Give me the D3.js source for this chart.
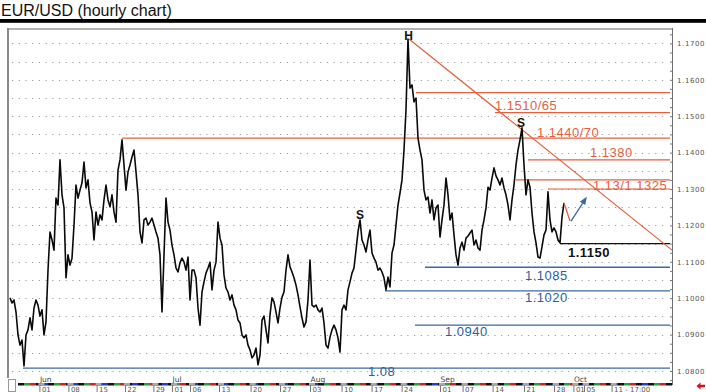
<!DOCTYPE html>
<html><head><meta charset="utf-8">
<script src="https://cdn.jsdelivr.net/npm/d3@7"></script>
<style>html,body{margin:0;padding:0;background:#fff;} svg{display:block;font-family:"Liberation Sans",Arial,Helvetica,sans-serif;}</style>
</head><body><svg id="c" width="706" height="392"></svg>
<script>
// ---------- DATA ----------
const chartTitle = "EUR/USD (hourly chart)";
// EUR/USD, one value every 8 trading hours (bar index = position in array)
const prices = [
1.1001,1.0987,1.0995,1.0962,1.0899,1.0871,1.0885,1.0814,1.0899,1.0913,
1.0946,1.0913,1.0973,1.0995,1.0981,1.0951,1.0968,1.0899,1.0935,1.1077,
1.1182,1.1160,1.1132,1.1275,1.1256,1.1380,1.1284,1.1248,1.1056,1.1119,
1.1091,1.1110,1.1201,1.1311,1.1275,1.1297,1.1317,1.1374,1.1303,1.1325,
1.1262,1.1237,1.1160,1.1237,1.1201,1.1229,1.1215,1.1270,1.1311,1.1270,
1.1251,1.1284,1.1237,1.1209,1.1352,1.1380,1.1435,1.1366,1.1297,1.1347,
1.1366,1.1388,1.1407,1.1347,1.1284,1.1182,1.1152,1.1215,1.1220,1.1201,
1.1209,1.1220,1.1201,1.1182,1.1165,1.1119,1.0962,1.1119,1.1275,1.1209,
1.1187,1.1146,1.1119,1.1083,1.1072,1.1097,1.1110,1.1099,1.1077,1.1113,
1.0995,1.1077,1.1077,1.1056,1.0973,1.0926,1.1017,1.1045,1.1069,1.1083,
1.1099,1.1023,1.1077,1.1099,1.1209,1.1165,1.1146,1.1064,1.1028,1.1017,
1.0995,1.1009,1.0981,1.0968,1.0940,1.0932,1.0899,1.0891,1.0899,1.0871,
1.0858,1.0836,1.0844,1.0863,1.0817,1.0844,1.0940,1.0951,1.0913,1.0877,
1.0954,1.1001,1.0990,1.0962,1.0932,1.0973,1.1003,1.1017,1.1077,1.1119,
1.1086,1.1072,1.1056,1.1036,1.1009,1.0976,1.0946,1.0921,1.0935,1.0995,
1.1105,1.0981,1.0976,1.0981,1.0968,1.0962,1.0973,1.0932,1.0871,1.0863,
1.0893,1.0913,1.0926,1.0913,1.0891,1.0852,1.0968,1.0981,1.0968,1.1023,
1.1045,1.1069,1.1083,1.1132,1.1182,1.1215,1.1160,1.1146,1.1127,1.1160,
1.1187,1.1124,1.1110,1.1099,1.1077,1.1083,1.1072,1.1056,1.1023,1.1058,
1.1031,1.1124,1.1146,1.1201,1.1256,1.1289,1.1325,1.1407,1.1517,1.1712,
1.1577,1.1586,1.1539,1.1550,1.1440,1.1407,1.1380,1.1297,1.1270,1.1278,
1.1234,1.1270,1.1215,1.1248,1.1256,1.1168,1.1215,1.1256,1.1330,1.1284,
1.1215,1.1234,1.1174,1.1119,1.1091,1.1138,1.1154,1.1132,1.1165,1.1171,
1.1179,1.1187,1.1146,1.1160,1.1138,1.1132,1.1187,1.1215,1.1248,1.1305,
1.1297,1.1330,1.1358,1.1336,1.1325,1.1311,1.1330,1.1303,1.1284,1.1256,
1.1215,1.1270,1.1311,1.1366,1.1407,1.1435,1.1468,1.1366,1.1284,1.1325,
1.1305,1.1234,1.1182,1.1152,1.1113,1.1110,1.1141,1.1174,1.1187,1.1292,
1.1215,1.1182,1.1193,1.1182,1.1160,1.1152,1.1223,1.1262
];
const yTicks = [1.08,1.09,1.10,1.11,1.12,1.13,1.14,1.15,1.16,1.17];
const weekLabels = ["01","08","15","22","29","01","06","13","20","27","03","10","17","24","01","07","14","21","28","01","05","11 - 17:00"];
const weekBars   = [14.7,29.2,43.3,57.5,71.7,81,90,104.5,120.3,135,150,165.8,180.8,195.8,215,226.3,241.3,257,272,281.7,287,300.8];
const monthLabels = ["Jun","Jul","Aug","Sep","Oct"];
const monthBars   = [14.7,81,150,215,281.7];
// key levels: [value, first bar]
const redLevels   = [[1.1565,203],[1.1510,242.5],[1.1440,56],[1.1380,259],[1.1325,253],[1.1300,269]];
const blackLevels = [[1.1150,275]];
const blueLevels  = [[1.1085,207.5],[1.1020,187.5],[1.0926,202.5],[1.0808,6.5]];
// level labels: [text, bar, baseline price, kind]
const levelLabels = [
  ["1.1510/65",242.5,1.1517,"red"],["1.1440/70",263.5,1.1443,"red"],["1.1380",290,1.1388,"red"],
  ["1.13/1.1325",291.5,1.1296,"red"],["1.1150",279,1.1113,"black"],["1.1085",257.5,1.1050,"blue"],
  ["1.1020",257.5,1.0990,"blue"],["1.0940",217.5,1.0896,"blue"],["1.08",179,1.0785,"blue"]
];
const patternLabels = [["H",199.3,1.1709],["S",175,1.1218],["S",255.5,1.1470]];
const trendLine = [[199.5,1.1712],[331,1.1132]];
const projDown = [[277,1.1262],[280,1.1212]];
const projUp   = [[280.5,1.1212],[288,1.1275]];

// ---------- DRAW ----------
const W = 706, H = 392;
const svg = d3.select("#c");
const col = {red:"#e5603f", blue:"#3a6aa3", black:"#111", blueText:"#2d5e98"};
const x = d3.scaleLinear().domain([0,331]).range([10,672]);
const y = d3.scaleLinear().domain([1.08,1.17]).range([371,43.4]);

// title + bar
svg.append("text").attr("x",1).attr("y",15.5).attr("font-size",16).attr("fill","#111").text(chartTitle);
svg.append("rect").attr("x",0).attr("y",19).attr("width",W).attr("height",3.8).attr("fill","#000");

// frame
svg.append("line").attr("x1",8).attr("x2",672).attr("y1",29).attr("y2",29).attr("stroke","#9a9a9a").attr("stroke-width",1.5);
svg.append("line").attr("x1",8).attr("x2",8).attr("y1",28).attr("y2",378).attr("stroke","#8a8a8a").attr("stroke-width",2);

// gridlines (dotted, every 0.005)
const gridVals = d3.range(0,19).map(i=>1.08+i*0.005);
svg.append("g").selectAll("line").data(gridVals).join("line")
  .attr("x1",12).attr("x2",668).attr("y1",d=>Math.round(y(d))+0.5).attr("y2",d=>Math.round(y(d))+0.5)
  .attr("stroke","#9d9d9d").attr("stroke-width",1).attr("stroke-dasharray","1.2 5.5");

// right axis
svg.append("line").attr("x1",672.5).attr("x2",672.5).attr("y1",28).attr("y2",385).attr("stroke","#6e6e6e").attr("stroke-width",1);
const minor = d3.range(0,39).map(i=>1.0775+i*0.0025);
const yMinor = d3.axisLeft(y).tickValues(minor.filter(v=>v<1.1745)).tickSize(2).tickFormat("");
const gm = svg.append("g").attr("transform","translate(672,0)").call(yMinor);
gm.select(".domain").remove();
gm.selectAll("line").attr("stroke","#777");
const yAxis = d3.axisRight(y).tickValues(yTicks).tickSize(0).tickPadding(5).tickFormat(d3.format(".4f"));
const ga = svg.append("g").attr("transform","translate(672,0)").call(yAxis);
ga.select(".domain").remove();
ga.selectAll("text").attr("font-size",7).attr("fill","#555").attr("letter-spacing",0.6)
  .attr("font-family","'DejaVu Sans',Arial,sans-serif");

// levels
function levels(arr,color,w){
  svg.append("g").selectAll("line").data(arr).join("line")
    .attr("x1",d=>x(d[1])).attr("x2",670).attr("y1",d=>y(d[0])).attr("y2",d=>y(d[0]))
    .attr("stroke",color).attr("stroke-width",w);
}
levels(redLevels,col.red,1.2);
levels(blackLevels,"#111",1.1);
levels(blueLevels,col.blue,1.3);

// trend line
const ln = d3.line().x(d=>x(d[0])).y(d=>y(d[1]));
svg.append("path").attr("d",ln(trendLine)).attr("fill","none").attr("stroke",col.red).attr("stroke-width",1.2);

// price line
const priceLine = d3.line().x((d,i)=>x(i)).y(d=>y(d));
svg.append("path").datum(prices).attr("d",priceLine).attr("fill","none")
  .attr("stroke","#0a0a0a").attr("stroke-width",1.6).attr("stroke-linejoin","round");

// projections
svg.append("defs").append("marker").attr("id","ah").attr("viewBox","0 0 10 10").attr("refX",8).attr("refY",5)
  .attr("markerWidth",6).attr("markerHeight",6).attr("orient","auto")
  .append("path").attr("d","M0,1 L10,5 L0,9 Z").attr("fill",col.blue);
svg.append("path").attr("d",ln(projDown)).attr("fill","none").attr("stroke",col.red).attr("stroke-width",1.3);
svg.append("path").attr("d",ln(projUp)).attr("fill","none").attr("stroke",col.blue).attr("stroke-width",1.3).attr("marker-end","url(#ah)");

// level labels
svg.append("g").selectAll("text").data(levelLabels).join("text")
  .attr("x",d=>x(d[1])).attr("y",d=>y(d[2])).attr("font-size",13).attr("letter-spacing",0.5)
  .attr("font-weight",d=>d[3]==="black"?"bold":"normal")
  .attr("fill",d=>d[3]==="red"?col.red:(d[3]==="blue"?col.blueText:"#111"))
  .text(d=>d[0]);

// pattern labels
svg.append("g").selectAll("text").data(patternLabels).join("text")
  .attr("x",d=>x(d[1])).attr("y",d=>y(d[2])).attr("text-anchor","middle")
  .attr("font-size",12).attr("font-weight","bold").attr("fill","#111").text(d=>d[0]);

// bottom time band
const dayColors = ["#111","#22a33a","#d42020","#111","#1f3fcf"];
const band = svg.append("g");
const dayW = x(3)-x(0);
d3.range(0,110).forEach(i=>{
  const x0 = x(4)+i*dayW;
  if (x0>=672) return;
  band.append("rect").attr("x",x0).attr("y",383).attr("width",Math.min(dayW,672-x0)).attr("height",2.5)
    .attr("fill",dayColors[i%5]);
});
// week ticks
const wk = svg.append("g");
weekLabels.forEach((t,i)=>{
  const xx = x(weekBars[i]);
  wk.append("rect").attr("x",xx-1).attr("y",383).attr("width",6).attr("height",2.5).attr("fill","#aaa");
  wk.append("line").attr("x1",xx+0.5).attr("x2",xx+0.5).attr("y1",385.5).attr("y2",392).attr("stroke","#777").attr("stroke-width",1);
  wk.append("text").attr("x",xx+2.5).attr("y",391.5).attr("font-size",7).attr("fill","#555")
    .attr("font-family","'DejaVu Sans',Arial,sans-serif").text(t);
});
monthLabels.forEach((t,i)=>{
  svg.append("text").attr("x",x(monthBars[i])+0.5).attr("y",381.5).attr("font-size",7.5).attr("fill","#444")
    .attr("font-family","'DejaVu Sans',Arial,sans-serif").text(t);
});
// bottom-left box
svg.append("rect").attr("x",8.5).attr("y",379.5).attr("width",7).attr("height",12).attr("fill","none").attr("stroke","#999");
// red arrow bottom right
svg.append("path").attr("d","M696.5,386 L700.5,382.5 L700.5,384.8 L705,384.8 L705,387.2 L700.5,387.2 L700.5,389.5 Z").attr("fill","#e01010");
</script></body></html>
